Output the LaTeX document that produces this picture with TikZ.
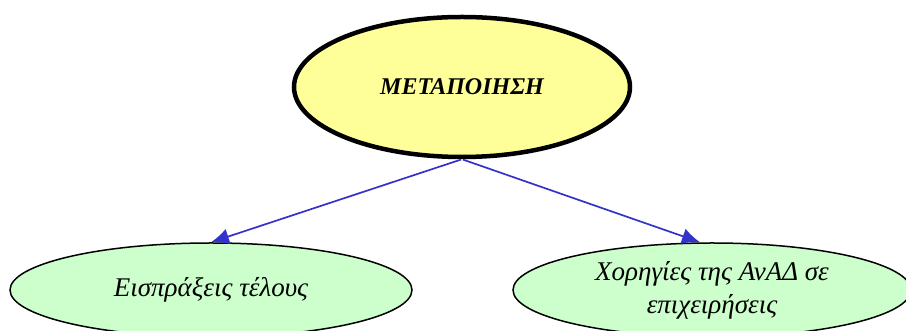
\documentclass[tikz,border=0pt]{standalone}
\usepackage{fontspec}
\setmainfont{Liberation Serif}
\usetikzlibrary{shapes.geometric,arrows.meta}
\definecolor{topyellow}{HTML}{FFFF99}
\definecolor{leafgreen}{HTML}{CCFFCC}
\definecolor{linkblue}{HTML}{3333CC}
\begin{document}
\begin{tikzpicture}[
x=1pt, y=1pt,
every node/.style={font=\fontsize{27}{33}\selectfont\itshape},
mainnode/.style={ellipse, draw=black, line width=4.5pt, fill=topyellow,
  minimum width=336pt, minimum height=140pt, inner sep=0pt,
  font=\fontsize{24}{30}\selectfont\itshape\bfseries},
leafnode/.style={ellipse, draw=black, line width=1.5pt, fill=leafgreen,
  minimum height=94pt, inner sep=0pt, align=center},
link/.style={-{Latex[length=18pt,width=16pt]}, linkblue, line width=1.7pt, shorten <=1pt}
]
    \useasboundingbox (0,0) rectangle (906,331);

    % Nodes
    \node[mainnode] (metapoiisi) at (462,244) {ΜΕΤΑΠΟΙΗΣΗ};
    \node[leafnode, minimum width=402pt] (eispraxeis) at (211,41) {Εισπράξεις τέλους};
    \node[leafnode, minimum width=398pt] (xorigies) at (712,41)
    {Χορηγίες της ΑνΑΔ σε\\επιχειρήσεις};

    % Arrows
    \draw[link] (metapoiisi.south) -- (eispraxeis.north);
    \draw[link] (metapoiisi.south) -- ([xshift=-12pt]xorigies.north);

\end{tikzpicture}
\end{document}
